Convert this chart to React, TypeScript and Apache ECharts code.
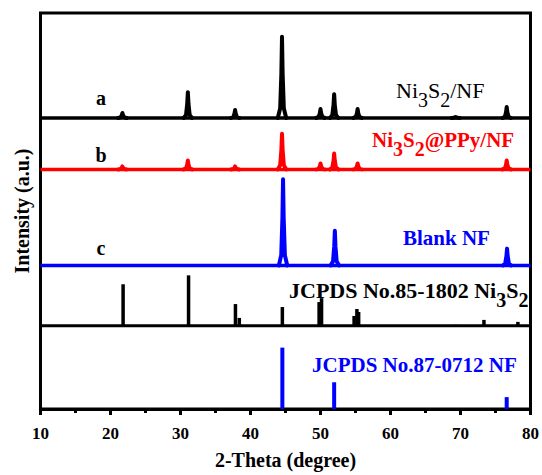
import React, { useEffect, useRef } from 'react';
import * as echarts from 'echarts';

// ---------- data ----------
// 2-Theta range and tick step
const X_MIN = 10;
const X_MAX = 80;
const X_STEP = 10;

// offsets (intensity units) of each stacked pattern
const BASE_A = 294; // Ni3S2/NF
const BASE_B = 242; // Ni3S2@PPy/NF
const BASE_C = 145; // Blank NF
const BASE_REF = 84; // JCPDS 85-1802 Ni3S2 sticks
const BASE_NF = 0; // JCPDS 87-0712 NF sticks

// peaks: [2-theta, height above baseline]
const peaksA: number[][] = [
  [21.7, 5], [31.05, 26], [37.8, 8], [44.5, 82], [50.0, 9],
  [51.95, 24], [55.3, 9], [69.3, 1], [76.6, 11],
];
const peaksB: number[][] = [
  [21.7, 3], [31.05, 9], [37.8, 3], [44.5, 36], [50.0, 6],
  [51.95, 16], [55.3, 6], [76.6, 9],
];
const peaksC: number[][] = [
  [44.65, 87], [52.05, 35], [76.65, 17],
];
const sticksNi3S2: number[][] = [
  [21.8, 42], [31.15, 51], [37.85, 22], [38.4, 8], [44.55, 19],
  [49.8, 24], [50.15, 28], [54.8, 10], [55.2, 17], [55.45, 14],
  [69.3, 1], [73.35, 6], [78.2, 4],
];
const sticksNF: number[][] = [
  [44.55, 62], [51.95, 27], [76.6, 12],
];

// ---------- styles ----------
const FONT = '"Liberation Serif", "Times New Roman", Times, serif';
const BLACK = '#000000';
const RED = '#ff0000';
const BLUE = '#0000ff';

// relative peak profile: [d(2theta), fraction of height]
const PEAK_SHAPE = [
  [-0.6, 0], [-0.26, 0.12], [-0.09, 0.55], [0, 1], [0.09, 0.55], [0.26, 0.12], [0.6, 0],
];

function peakSeries(data: number[][], base: number, color: string) {
  return {
    type: 'custom',
    data,
    encode: { x: 0, y: 1 },
    renderItem: (_p: any, api: any) => {
      const x = api.value(0);
      const h = api.value(1);
      const pts = PEAK_SHAPE.map(([dx, f]) => api.coord([x + dx, base + f * h]));
      return {
        type: 'polyline',
        shape: { points: pts },
        style: { stroke: color, lineWidth: 4, fill: 'none', lineJoin: 'round', lineCap: 'round' },
      };
    },
    z: 3,
  };
}

function baselineSeries(base: number, color: string, width: number) {
  return {
    type: 'line',
    data: [[X_MIN, base], [X_MAX, base]],
    symbol: 'none',
    lineStyle: { color, width },
    z: 3,
  };
}

function stickSeries(data: number[][], base: number, color: string, width: number) {
  return {
    type: 'custom',
    data,
    encode: { x: 0, y: 1 },
    renderItem: (_p: any, api: any) => {
      const x = api.value(0);
      const p0 = api.coord([x, base]);
      const p1 = api.coord([x, base + api.value(1)]);
      return {
        type: 'rect',
        shape: { x: p0[0] - width / 2, y: p1[1], width, height: p0[1] - p1[1] },
        style: { fill: color },
      };
    },
    z: 3,
  };
}

function richLabel(x: number, y: number, text: string, color: string, weight: string, size: number, subSize: number) {
  return {
    type: 'text',
    x,
    y,
    z: 10,
    style: {
      text,
      align: 'left',
      verticalAlign: 'top',
      rich: {
        n: { fontSize: size, fontFamily: FONT, fontWeight: weight, fill: color, verticalAlign: 'top' },
        s: { fontSize: subSize, fontFamily: FONT, fontWeight: weight, fill: color, verticalAlign: 'top', height: 40 },
      },
    },
  };
}

function plainLabel(x: number, y: number, text: string, color: string, size: number, align = 'left') {
  return {
    type: 'text',
    x,
    y,
    z: 10,
    style: {
      text,
      align,
      verticalAlign: 'middle',
      fontSize: size,
      fontFamily: FONT,
      fontWeight: 'bold',
      fill: color,
    },
  };
}

export default function App() {
  const ref = useRef<HTMLDivElement>(null);

  useEffect(() => {
    if (!ref.current) return;
    const chart = echarts.init(ref.current, null, { renderer: 'svg' });
    chart.setOption({
      animation: false,
      backgroundColor: '#ffffff',
      grid: {
        left: 40.5,
        right: 9.3,
        top: 13,
        bottom: 62.7,
        show: true,
        borderColor: BLACK,
        borderWidth: 3,
        backgroundColor: 'transparent',
      },
      xAxis: {
        type: 'value',
        min: X_MIN,
        max: X_MAX,
        interval: X_STEP,
        name: '2-Theta (degree)',
        nameLocation: 'middle',
        nameGap: 41,
        nameTextStyle: { fontFamily: FONT, fontWeight: 'bold', fontSize: 20, color: BLACK },
        axisLine: { show: true, lineStyle: { color: BLACK, width: 3 } },
        axisTick: { show: true, inside: false, length: 6, lineStyle: { color: BLACK, width: 3 } },
        minorTick: { show: true, splitNumber: 2, length: 4, lineStyle: { color: BLACK, width: 3 } },
        axisLabel: { fontFamily: FONT, fontWeight: 'bold', fontSize: 17, color: BLACK, margin: 16 },
        splitLine: { show: false },
        minorSplitLine: { show: false },
      },
      yAxis: {
        type: 'value',
        min: 0,
        max: 400,
        name: 'Intensity (a.u.)',
        nameLocation: 'middle',
        nameGap: 9,
        nameTextStyle: { fontFamily: FONT, fontWeight: 'bold', fontSize: 20, color: BLACK },
        axisLine: { show: false },
        axisTick: { show: false },
        axisLabel: { show: false },
        splitLine: { show: false },
      },
      series: [
        baselineSeries(BASE_A, BLACK, 3.5),
        peakSeries(peaksA, BASE_A, BLACK),
        baselineSeries(BASE_B, RED, 3.5),
        peakSeries(peaksB, BASE_B, RED),
        baselineSeries(BASE_C, BLUE, 3.5),
        peakSeries(peaksC, BASE_C, BLUE),
        baselineSeries(BASE_REF, BLACK, 3),
        stickSeries(sticksNi3S2, BASE_REF, BLACK, 3.5),
        stickSeries(sticksNF, BASE_NF, BLUE, 4),
      ],
      graphic: [
        plainLabel(101, 98, 'a', BLACK, 20, 'center'),
        plainLabel(101, 155, 'b', BLACK, 20, 'center'),
        plainLabel(101, 248, 'c', BLACK, 20, 'center'),
        richLabel(396, 79.5, '{n|Ni}{s|3}{n|S}{s|2}{n|/NF}', BLACK, 'normal', 22, 20),
        richLabel(372, 129, '{n|Ni}{s|3}{n|S}{s|2}{n|@PPy/NF}', RED, 'bold', 21, 20),
        plainLabel(403, 238, 'Blank NF', BLUE, 21),
        richLabel(289, 279.5, '{n|JCPDS No.85-1802 Ni}{s|3}{n|S}{s|2}', BLACK, 'bold', 22, 20),
        plainLabel(312, 364.6, 'JCPDS No.87-0712 NF', BLUE, 21),
      ],
    });
    return () => chart.dispose();
  }, []);

  return (
    <div
      ref={ref}
      style={{ position: 'fixed', left: 0, top: 0, width: 542, height: 475, background: '#fff' }}
    />
  );
}
